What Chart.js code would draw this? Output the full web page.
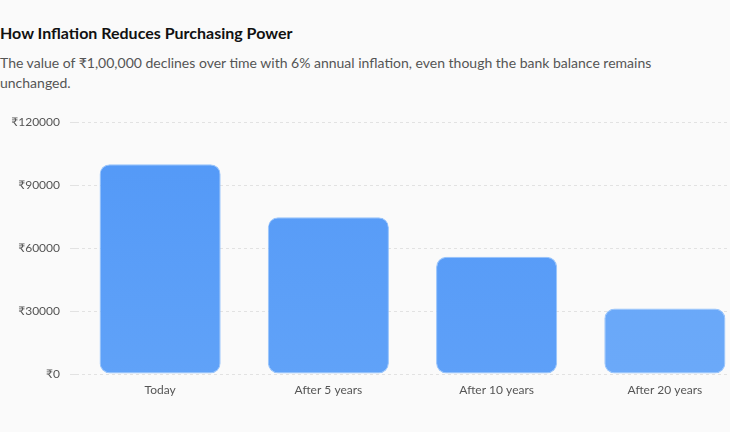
<!DOCTYPE html>
<html>
<head>
<meta charset="utf-8">
<script src="https://cdn.jsdelivr.net/npm/chart.js@4.4.1/dist/chart.umd.min.js"></script>
<style>
  html, body { margin: 0; padding: 0; background: #fafafa; overflow: hidden; }
  body { width: 730px; height: 432px; position: relative; font-family: Lato, "Noto Sans", sans-serif; }
  #title { position: absolute; left: 0; top: 23px; font-size: 16px; line-height: 20px; font-weight: 700; color: #111; white-space: nowrap; }
  #sub { position: absolute; left: 0; top: 53px; width: 700px; font-size: 14px; line-height: 20px; color: #555; }
  #wrap { position: absolute; left: 0; top: 105px; width: 750px; height: 300px; }
</style>
</head>
<body>
<div id="title">How Inflation Reduces Purchasing Power</div>
<div id="sub">The value of ₹1,00,000 declines over time with 6% annual inflation, even though the bank balance remains unchanged.</div>
<div id="wrap"><canvas id="c" width="750" height="300"></canvas></div>
<script>
const categories = ["Today", "After 5 years", "After 10 years", "After 20 years"];
const values = [100000, 74726, 55839, 31180];
const yTicks = [0, 30000, 60000, 90000, 120000];

const topColors = ["#5298f7", "#5499f7", "#5298f7", "#66a6f9"];
const bottomColors = ["#60a2f8", "#60a2f8", "#5ea0f8", "#6ba9f9"];

const ctx = document.getElementById('c').getContext('2d');
new Chart(ctx, {
  type: 'bar',
  data: {
    labels: categories,
    datasets: [{
      data: values,
      backgroundColor: (c) => {
        const ch = c.chart;
        const area = ch.chartArea;
        if (!area) return topColors[c.dataIndex];
        const g = ch.ctx.createLinearGradient(0, area.top, 0, area.bottom);
        g.addColorStop(0, topColors[c.dataIndex]);
        g.addColorStop(1, bottomColors[c.dataIndex]);
        return g;
      },
      borderColor: "rgba(140,190,252,0.9)",
      borderWidth: 1,
      borderRadius: 10,
      borderSkipped: false,
      barPercentage: 0.9,
      categoryPercentage: 0.8
    }]
  },
  options: {
    responsive: false,
    animation: false,
    devicePixelRatio: 1,
    layout: { padding: { top: 16, right: 1, left: 0, bottom: 0 } },
    plugins: { legend: { display: false }, tooltip: { enabled: false } },
    scales: {
      x: {
        grid: { display: false, drawTicks: false },
        border: { display: false },
        ticks: { padding: 9, color: "#555", font: { family: "Lato, 'Noto Sans', sans-serif", size: 12 } },
        afterFit: (s) => { s.height = 31; }
      },
      y: {
        min: 0,
        max: 120000,
        afterBuildTicks: (s) => { s.ticks = yTicks.map(v => ({ value: v })); },
        grid: { color: "#e2e2e2", drawTicks: true, tickLength: 6, lineWidth: 1 },
        border: { display: false, dash: [3, 3] },
        ticks: {
          padding: 10,
          color: "#555",
          font: { family: "Lato, 'Noto Sans', sans-serif", size: 12 },
          callback: (v) => "₹" + v
        },
        afterFit: (s) => { s.width = 76; }
      }
    }
  }
});
</script>
</body>
</html>
